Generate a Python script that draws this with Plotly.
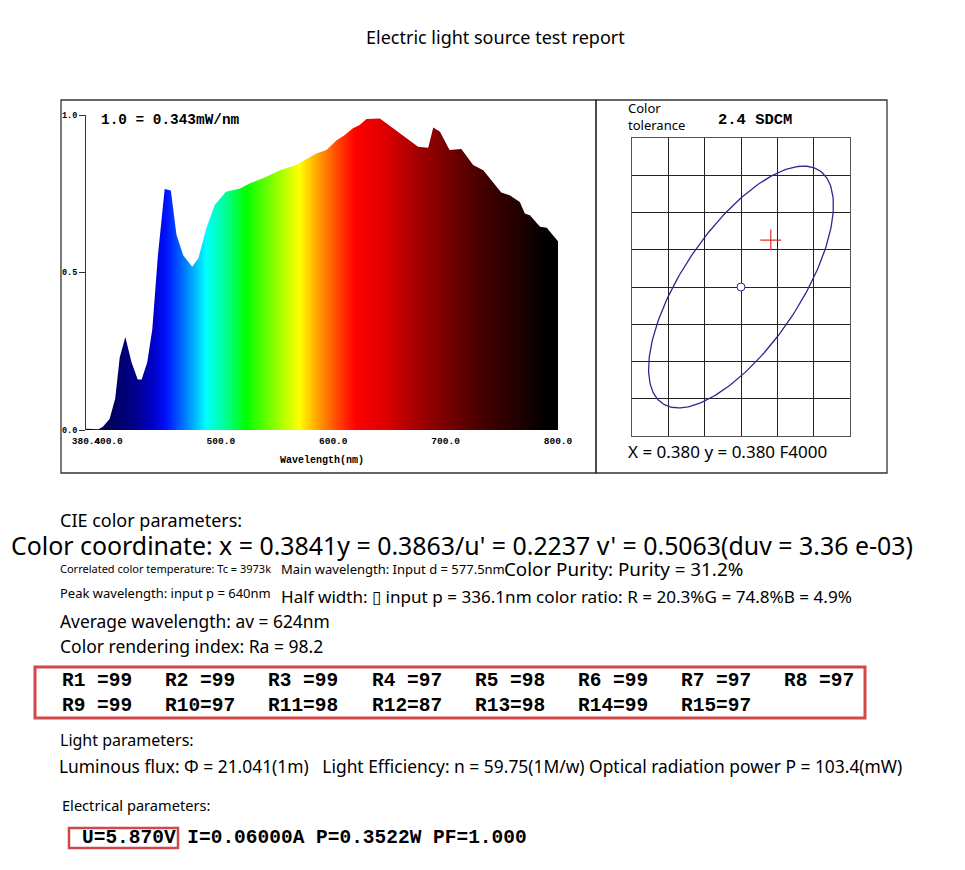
import numpy as np
import plotly.graph_objects as go


FIG_W = 965
FIG_H = 870
TEXT_FONT = "Noto Sans"
MONO_FONT = "Liberation Mono"
BOX_RED = "#d04848"

# Relative spectral power (1.0 = 0.343 mW/nm)
WAVELENGTHS = [
    380, 391, 395, 401, 406, 410, 415, 420.5, 426, 429.5,
    434.5, 439, 444, 450, 455.5, 460.5, 466.5, 474.5, 480, 487,
    494.5, 504.5, 517, 526, 540.5, 552.5, 567, 585, 594, 603,
    610, 617.5, 623.5, 629.5, 641.5, 653, 665, 675.5, 684.5, 689,
    695, 703.5, 714, 724.5, 733.5, 742, 749.5, 757, 766, 770.5,
    775, 784, 790, 795.5, 800,
]
RELATIVE_POWER = [
    0.004, 0.002, 0.010, 0.035, 0.100, 0.230, 0.295, 0.215, 0.160, 0.160,
    0.215, 0.320, 0.555, 0.765, 0.760, 0.620, 0.555, 0.518, 0.545, 0.640,
    0.714, 0.756, 0.767, 0.783, 0.804, 0.825, 0.841, 0.878, 0.889, 0.920,
    0.936, 0.958, 0.968, 0.987, 0.989, 0.958, 0.926, 0.899, 0.896, 0.960,
    0.947, 0.889, 0.892, 0.841, 0.825, 0.788, 0.754, 0.745, 0.724, 0.687,
    0.682, 0.645, 0.642, 0.618, 0.599,
]
WL_TICKS = [380, 400, 500, 600, 700, 800]
WL_TICK_TEXT = ["380.4", "400.0", "500.0", "600.0", "700.0", "800.0"]
POWER_TICKS = [0, 0.5, 1.0]
POWER_TICK_TEXT = ["0.0", "0.5", "1.0"]

# wavelength -> colour used for the gradient under the curve
SPECTRUM_STOPS = [380, 404, 425, 440, 451, 469, 487, 505, 522, 546,
                  570, 588, 605, 620, 647, 677, 706, 736, 766, 790, 800]
SPECTRUM_COLORS = ["#000040", "#000060", "#000090", "#0000c8", "#0010ff",
                   "#0080ff", "#00ffff", "#00ff90", "#00ff00", "#80ff00",
                   "#ffff00", "#ff9900", "#ff4000", "#ff0000", "#dd0000",
                   "#a00000", "#700000", "#400000", "#200000", "#000000",
                   "#000000"]

# colour tolerance (chromaticity x, y)
TARGET_XY = (0.380, 0.380)
MEASURED_XY = (0.3841, 0.3863)
ELLIPSE_SEMI_AXES = (0.0190, 0.0080)
ELLIPSE_ANGLE_DEG = 55

CRI_VALUES = [99, 99, 99, 97, 98, 99, 97, 97, 99, 97, 98, 87, 98, 99, 97]


def px_x(x):
    return x / FIG_W


def px_y(y):
    return 1 - y / FIG_H


def add_text(fig, text, x, y, size, family=TEXT_FONT, bold=False, xanchor="left"):
    fig.add_annotation(
        text=text, x=px_x(x), y=px_y(y), xref="paper", yref="paper",
        xanchor=xanchor, yanchor="middle", showarrow=False, borderpad=0, align="left",
        font=dict(family=family, size=size, color="black",
                  weight="bold" if bold else "normal"),
    )


def add_box(fig, x0, y0, x1, y1, color, width):
    fig.add_shape(
        type="rect", xref="paper", yref="paper",
        x0=px_x(x0), y0=px_y(y0), x1=px_x(x1), y1=px_y(y1),
        line=dict(color=color, width=width), layer="above",
    )


def tolerance_ellipse():
    # outline of the tolerance ellipse from its centre, semi-axes and tilt
    t = np.linspace(0, 2 * np.pi, 241)
    a, b = ELLIPSE_SEMI_AXES
    phi = np.radians(ELLIPSE_ANGLE_DEG)
    xs = TARGET_XY[0] + a * np.cos(t) * np.cos(phi) - b * np.sin(t) * np.sin(phi)
    ys = TARGET_XY[1] + a * np.cos(t) * np.sin(phi) + b * np.sin(t) * np.cos(phi)
    return xs, ys


def build_figure():
    fig = go.Figure()

    lo, hi = SPECTRUM_STOPS[0], SPECTRUM_STOPS[-1]
    colorscale = [[(wl - lo) / (hi - lo), c] for wl, c in zip(SPECTRUM_STOPS, SPECTRUM_COLORS)]

    fig.add_trace(go.Scatter(
        x=WAVELENGTHS, y=RELATIVE_POWER, mode="lines",
        line=dict(width=0, color="rgba(0,0,0,0)"),
        fill="tozeroy",
        fillgradient=dict(type="horizontal", colorscale=colorscale, start=lo, stop=hi),
        hoverinfo="skip", xaxis="x", yaxis="y",
    ))

    ex, ey = tolerance_ellipse()
    fig.add_trace(go.Scatter(
        x=ex, y=ey, mode="lines", line=dict(color="#2a2a90", width=1.3),
        hoverinfo="skip", xaxis="x2", yaxis="y2",
    ))
    fig.add_trace(go.Scatter(
        x=[MEASURED_XY[0]], y=[MEASURED_XY[1]], mode="markers",
        marker=dict(symbol="cross-thin", size=15, line=dict(color="#e03030", width=1.2)),
        xaxis="x2", yaxis="y2",
    ))
    fig.add_trace(go.Scatter(
        x=[TARGET_XY[0]], y=[TARGET_XY[1]], mode="markers",
        marker=dict(symbol="circle", size=8, color="white", line=dict(color="#2a2a90", width=1)),
        xaxis="x2", yaxis="y2",
    ))

    # spectrum axes
    fig.update_layout(
        xaxis=dict(
            domain=[px_x(86), px_x(558)], range=[380, 800], anchor="y", automargin=False,
            tickvals=WL_TICKS, ticktext=WL_TICK_TEXT, tickangle=0,
            showgrid=False, zeroline=False, showline=False, ticks="",
            ticklabelstandoff=3,
            tickfont=dict(family=MONO_FONT, size=9.5, color="black", weight="bold"),
        ),
        yaxis=dict(
            domain=[px_y(430), px_y(115)], range=[0, 1], anchor="x", automargin=False,
            tickvals=POWER_TICKS, ticktext=POWER_TICK_TEXT,
            showgrid=False, zeroline=False, showline=True, linecolor="#333", linewidth=1,
            ticks="outside", ticklen=6, tickcolor="#333",
            tickfont=dict(family=MONO_FONT, size=8.5, color="black", weight="bold"),
        ),
        # colour tolerance grid
        xaxis2=dict(
            domain=[px_x(632), px_x(850)], range=[0.365, 0.395], anchor="y2", automargin=False,
            dtick=0.005, tick0=0.365, showticklabels=False, ticks="",
            showgrid=True, gridcolor="#222", gridwidth=1, zeroline=False,
            showline=True, mirror=True, linecolor="#555", linewidth=1,
        ),
        yaxis2=dict(
            domain=[px_y(436), px_y(138)], range=[0.360, 0.400], anchor="x2", automargin=False,
            dtick=0.005, tick0=0.360, showticklabels=False, ticks="",
            showgrid=True, gridcolor="#222", gridwidth=1, zeroline=False,
            showline=True, mirror=True, linecolor="#555", linewidth=1,
        ),
    )

    # panel frames
    add_box(fig, 61, 100, 596, 473, "#333", 1.3)
    add_box(fig, 596, 100, 887, 473, "#333", 1.3)

    add_text(fig, "Electric light source test report", 495, 37, 18, xanchor="center")
    add_text(fig, "1.0 = 0.343mW/nm", 100, 120, 14.4, family=MONO_FONT, bold=True)
    add_text(fig, "Wavelength(nm)", 322, 460, 10, family=MONO_FONT, bold=True, xanchor="center")
    add_text(fig, "Color<br>tolerance", 627, 117, 13)
    add_text(fig, "2.4 SDCM", 717, 120, 15.5, family=MONO_FONT, bold=True)
    add_text(fig, "X = 0.380 y = 0.380 F4000", 627, 451, 17)

    # report text
    add_text(fig, "CIE color parameters:", 59, 520, 18)
    add_text(fig, "Color coordinate: x = 0.3841y = 0.3863/u' = 0.2237 v' = 0.5063(duv = 3.36 e-03)",
             10, 545, 24.9)
    add_text(fig, "Correlated color temperature: Tc = 3973k", 59, 568, 11)
    add_text(fig, "Main wavelength: Input d = 577.5nm", 280, 569, 13)
    add_text(fig, "Color Purity: Purity = 31.2%", 503, 569, 18.8)
    add_text(fig, "Peak wavelength: input p = 640nm", 59, 593, 13)
    add_text(fig, "Half width: \u25af input p = 336.1nm color ratio: R = 20.3%G = 74.8%B = 4.9%",
             280, 596, 17.1)
    add_text(fig, "Average wavelength: av = 624nm", 59, 621, 17.4)
    add_text(fig, "Color rendering index: Ra = 98.2", 59, 646, 17.5)

    # special colour rendering indices, two rows of eight
    for i, value in enumerate(CRI_VALUES):
        label = f"R{i + 1}".ljust(3) + f"={value}"
        row, col = divmod(i, 8)
        add_text(fig, label, 61 + col * 103.2, 681 + row * 25, 19.5, family=MONO_FONT, bold=True)
    add_box(fig, 35, 667, 865, 718, BOX_RED, 3)

    add_text(fig, "Light parameters:", 59, 740, 16)
    add_text(fig, "Luminous flux: \u03a6 = 21.041(1m)   Light Efficiency: n = 59.75(1M/w) "
             "Optical radiation power P = 103.4(mW)", 58, 766, 17.4)
    add_text(fig, "Electrical parameters:", 61, 805, 14.6)
    add_text(fig, "U=5.870V I=0.06000A P=0.3522W PF=1.000", 81, 838, 19.5, family=MONO_FONT, bold=True)
    add_box(fig, 69, 828, 178, 848, BOX_RED, 2.5)

    fig.update_layout(
        width=FIG_W, height=FIG_H, margin=dict(l=0, r=0, t=0, b=0, autoexpand=False),
        paper_bgcolor="white", plot_bgcolor="white", showlegend=False,
    )
    return fig


fig = build_figure()
fig.write_html("out.html", config={"displayModeBar": False},
               post_script="document.body.style.margin='0';")
